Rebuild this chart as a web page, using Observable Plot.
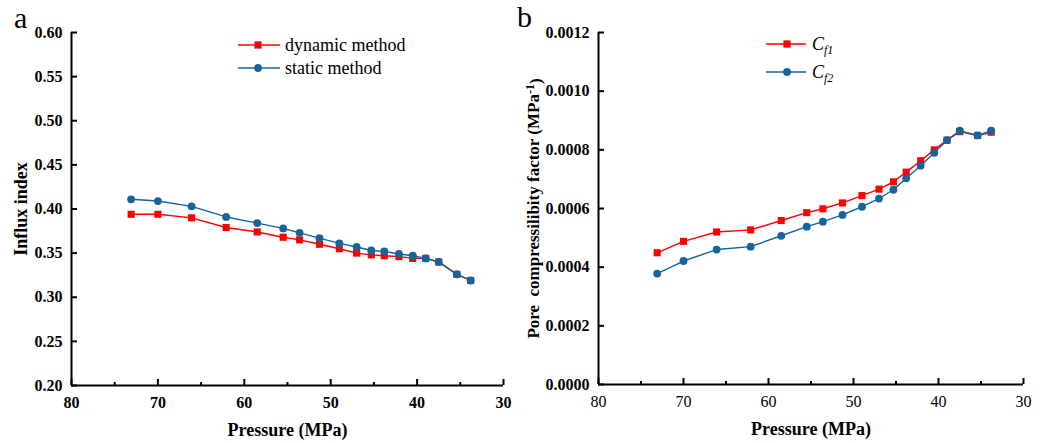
<!DOCTYPE html>
<html>
<head>
<meta charset="utf-8">
<script src="https://cdn.jsdelivr.net/npm/d3@7"></script>
<script src="https://cdn.jsdelivr.net/npm/@observablehq/plot@0.6"></script>
<style>
  html, body { margin: 0; padding: 0; background: #fff; }
  #wrap { position: relative; width: 1058px; height: 443px; overflow: hidden; font-family: "Liberation Serif", "Times New Roman", serif; }
  #pa { position: absolute; left: 0; top: 0; }
  #pb { position: absolute; left: 520px; top: 0; }
  #overlay { position: absolute; left: 0; top: 0; pointer-events: none; }
  svg text { font-family: "Liberation Serif", "Times New Roman", serif; }
</style>
</head>
<body>
<div id="wrap">
  <div id="pa"></div>
  <div id="pb"></div>
  <svg id="overlay" width="1058" height="443"></svg>
</div>
<script>
// ---- data ----
const pressure = [73.1, 70.0, 66.1, 62.1, 58.5, 55.5, 53.6, 51.3, 49.0, 47.0, 45.3, 43.8, 42.1, 40.5, 39.0, 37.5, 35.4, 33.8];
const dynamicIndex = [0.394, 0.394, 0.390, 0.379, 0.374, 0.368, 0.365, 0.360, 0.355, 0.350, 0.348, 0.347, 0.346, 0.344, 0.344, 0.340, 0.326, 0.319];
const staticIndex  = [0.411, 0.409, 0.403, 0.391, 0.384, 0.378, 0.373, 0.367, 0.361, 0.357, 0.353, 0.352, 0.349, 0.347, 0.344, 0.340, 0.326, 0.319];
const cf1 = [0.000449, 0.000488, 0.000520, 0.000527, 0.000559, 0.000586, 0.000599, 0.000619, 0.000644, 0.000666, 0.000691, 0.000724, 0.000763, 0.000800, 0.000833, 0.000862, 0.000849, 0.000860];
const cf2 = [0.000378, 0.000421, 0.000460, 0.000470, 0.000507, 0.000538, 0.000555, 0.000578, 0.000606, 0.000634, 0.000664, 0.000703, 0.000746, 0.000790, 0.000833, 0.000865, 0.000849, 0.000865];
const xMajor = [80, 70, 60, 50, 40, 30];
const xMinor = [75, 65, 55, 45, 35];
const yTicksA = [0.20, 0.25, 0.30, 0.35, 0.40, 0.45, 0.50, 0.55, 0.60];
const yTicksB = [0.0000, 0.0002, 0.0004, 0.0006, 0.0008, 0.0010, 0.0012];
const seriesA = ["dynamic method", "static method"];
const xTitle = "Pressure (MPa)";
const yTitleA = "Influx index";

const RED = "#ff0000";
const BLUE = "#16659a";
const FONT = "'Liberation Serif', 'Times New Roman', serif";
const STYLE = `font-family: ${FONT}; background: white; color: black;`;

function rows(ys) { return pressure.map((p, i) => ({p, v: ys[i]})); }

function seriesMarks(redVals, blueVals) {
  return [
    Plot.line(rows(redVals), {x: "p", y: "v", stroke: RED, strokeWidth: 1.4}),
    Plot.dot(rows(redVals), {x: "p", y: "v", symbol: "square", r: 4, fill: RED, stroke: "none"}),
    Plot.line(rows(blueVals), {x: "p", y: "v", stroke: BLUE, strokeWidth: 1.4}),
    Plot.dot(rows(blueVals), {x: "p", y: "v", symbol: "circle", r: 3.9, fill: BLUE, stroke: "none"})
  ];
}

function axisMarks(yTicks, yFmt, yDomain, xBold) {
  return [
    Plot.axisX({ticks: xMajor, tickSize: -6, tickPadding: 17, strokeWidth: 2, fontSize: 16, fontWeight: xBold ? "bold" : "normal", tickFormat: d3.format("d"), label: null}),
    Plot.axisX({ticks: xMinor, tickSize: -3, tickPadding: 0, strokeWidth: 2, tickFormat: () => "", label: null}),
    Plot.axisY({ticks: yTicks, tickSize: -6, tickPadding: 15, strokeWidth: 2, fontSize: 16, fontWeight: "bold", tickFormat: yFmt, label: null}),
    Plot.ruleY([yDomain[0]], {stroke: "black", strokeWidth: 2}),
    Plot.ruleX([80], {stroke: "black", strokeWidth: 2}),
    Plot.text([xTitle], {frameAnchor: "bottom", lineAnchor: "middle", dy: 45, fontSize: 18, fontWeight: "bold", fill: "black"})
  ];
}

// ---- panel a ----
const plotA = Plot.plot({
  width: 520, height: 443,
  marginLeft: 71, marginRight: 17, marginTop: 32, marginBottom: 58,
  style: STYLE,
  x: {domain: [80, 30]},
  y: {domain: [0.2, 0.6]},
  marks: [
    ...axisMarks(yTicksA, d3.format(".2f"), [0.2, 0.6], true),
    Plot.text([yTitleA], {frameAnchor: "left", textAnchor: "middle", lineAnchor: "middle", rotate: -90, dx: -50, fontSize: 18, fontWeight: "bold", fill: "black"}),
    ...seriesMarks(dynamicIndex, staticIndex)
  ]
});
document.getElementById("pa").appendChild(plotA);

// ---- panel b ----
const yTitleB = "Pore  compressilibity factor (MPa-1)";
const plotB = Plot.plot({
  width: 538, height: 443,
  marginLeft: 78, marginRight: 35, marginTop: 32, marginBottom: 59,
  style: STYLE,
  x: {domain: [80, 30]},
  y: {domain: [0, 0.0012]},
  marks: [
    ...axisMarks(yTicksB, d3.format(".4f"), [0, 0.0012], false),
    Plot.text([yTitleB], {frameAnchor: "left", textAnchor: "middle", lineAnchor: "middle", rotate: -90, dx: -65, fontSize: 17, fontWeight: "bold", fill: "black"}),
    ...seriesMarks(cf1, cf2)
  ]
});
document.getElementById("pb").appendChild(plotB);

// superscript in panel b y title
d3.select(plotB).selectAll("text").each(function() {
  if (this.textContent === yTitleB) {
    const t = d3.select(this);
    t.text(null).style("white-space", "pre");
    t.append("tspan").text("Pore  compressilibity factor (MPa");
    t.append("tspan").attr("dy", "-0.45em").attr("font-size", "12").text("-1");
    t.append("tspan").attr("dy", "0.45em").text(")");
  }
});

// ---- legends and panel letters ----
const ov = d3.select("#overlay");
ov.append("text").attr("x", 14).attr("y", 28).attr("font-size", 30).text("a");
ov.append("text").attr("x", 517).attr("y", 27).attr("font-size", 30).text("b");

function legendRow(x0, x1, xm, y, color, shape, tx) {
  ov.append("line").attr("x1", x0).attr("x2", x1).attr("y1", y).attr("y2", y).attr("stroke", color).attr("stroke-width", 1.5);
  if (shape === "square") ov.append("rect").attr("x", xm - 3.6).attr("y", y - 3.6).attr("width", 7.2).attr("height", 7.2).attr("fill", color);
  else ov.append("circle").attr("cx", xm).attr("cy", y).attr("r", 3.9).attr("fill", color);
  return ov.append("text").attr("x", tx).attr("y", y).attr("dy", "0.32em").attr("font-size", 18);
}
legendRow(238, 280, 258, 45, RED, "square", 285).text(seriesA[0]);
legendRow(238, 280, 258, 68, BLUE, "circle", 285).text(seriesA[1]);

function cfLabel(t, sub) {
  t.append("tspan").attr("font-style", "italic").text("C");
  t.append("tspan").attr("font-style", "italic").attr("font-size", 12).attr("dy", "0.35em").text(sub);
}
cfLabel(legendRow(766, 806, 787, 44, RED, "square", 812), "f1");
cfLabel(legendRow(766, 806, 787, 72, BLUE, "circle", 812), "f2");
</script>
</body>
</html>
